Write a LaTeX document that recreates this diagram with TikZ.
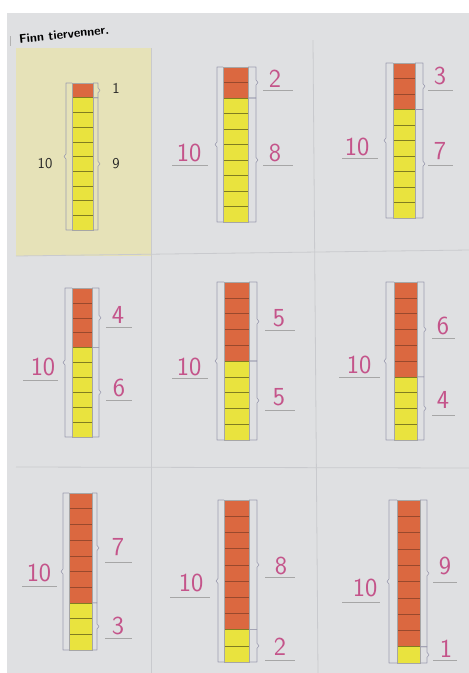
\documentclass[tikz,border=0pt]{standalone}
\usepackage{fontspec}
\definecolor{pagec}{HTML}{DFE0E2}
\definecolor{beige}{HTML}{E6E2B8}
\definecolor{orng}{HTML}{DB6840}
\definecolor{ylw}{HTML}{E9E33E}
\definecolor{pinkn}{HTML}{C4548A}
\definecolor{brk}{HTML}{9C9CB0}
\definecolor{divc}{HTML}{C9CACE}
\newcommand{\tenbar}[7]{%
  \pgfmathsetmacro{\hh}{(#4-#3)/10}%
  \pgfmathsetmacro{\ys}{#3+#5*\hh}%
  \pgfmathsetmacro{\ym}{(#3+#4)/2}%
  \pgfmathsetmacro{\ya}{(#3+\ys)/2}%
  \pgfmathsetmacro{\yb}{(\ys+#4)/2}%
  \fill[orng] (#1,#3) rectangle (#2,\ys);
  \fill[ylw] (#1,\ys) rectangle (#2,#4);
  \foreach \i in {1,...,9}{%
    \pgfmathsetmacro{\yy}{#3+\i*\hh}%
    \ifnum\i<#5\relax
      \draw[orng!70!black,line width=0.5pt] (#1,\yy) -- (#2,\yy);
    \else
      \draw[ylw!55!black,line width=0.5pt] (#1,\yy) -- (#2,\yy);
    \fi
  }
  \draw[black!35,line width=0.3pt] (#1,#3) rectangle (#2,#4);
  \draw[bracket] (#1,#3) -- (#6,#3) -- (#6,\ym-2.5) -- (#6-2,\ym) -- (#6,\ym+2.5) -- (#6,#4) -- (#1,#4);
  \draw[bracket] (#2,#3) -- (#7,#3) -- (#7,\ya-2.5) -- (#7+2,\ya) -- (#7,\ya+2.5) -- (#7,\ys) -- (#2,\ys);
  \draw[bracket] (#2,\ys) -- (#7,\ys) -- (#7,\yb-2.5) -- (#7+2,\yb) -- (#7,\yb+2.5) -- (#7,#4) -- (#2,#4);
}
\tikzset{
  bracket/.style={draw=brk,line width=0.6pt,line join=round},
  num/.style={text=pinkn,font=\sffamily\fontsize{26}{26}\selectfont,inner sep=0pt},
  prnum/.style={text=black!85,font=\sffamily\fontsize{15}{15}\selectfont,inner sep=0pt},
  uline/.style={draw=gray!70,line width=0.6pt},
  divider/.style={draw=divc,line width=0.8pt}
}
\begin{document}
\begin{tikzpicture}[x=1pt,y=-1pt]
\useasboundingbox (0,0) rectangle (469,673);
\fill[white] (0,0) rectangle (469,673);
\fill[pagec] (7,13) rectangle (469,673);
% highlighted example cell
\fill[beige] (16,48) rectangle (151,256);
% dividers
\draw[divider] (151,48) -- (151,673);
\draw[divider] (313,40) -- (318,673);
\draw[divider] (16,256) -- (469,250);
\draw[divider] (16,467) -- (469,468);
% title
\draw[gray!60,line width=0.8pt] (10,36) -- (10,46);
\node[anchor=west,font=\sffamily\bfseries\fontsize{12.5}{12.5}\selectfont,rotate=6,inner sep=0pt] (title) at (19,39) {Finn tiervenner.};
% bars: xl, xr, top, bottom, orange count, left bracket x, right bracket x
\tenbar{72}{93}{83}{230}{1}{66}{98}
\tenbar{223}{248}{67}{222}{2}{217}{256}
\tenbar{393}{415}{63}{218}{3}{386}{423}
\tenbar{72}{92}{288}{437}{4}{65}{99}
\tenbar{224}{249}{282}{440}{5}{217}{257}
\tenbar{394}{417}{282}{440}{6}{386}{424}
\tenbar{69}{92}{493}{650}{7}{63}{97}
\tenbar{224}{249}{500}{662}{8}{218}{257}
\tenbar{397}{420}{500}{663}{9}{389}{427}
% row 1, column 1 (printed)
\node[prnum] (a1) at (116,88) {1};
\node[prnum] (a2) at (116,164) {9};
\node[prnum] (a3) at (45,164) {10};
% row 1, column 2
\node[num] (b1) at (275,79) {2};
\node[num] (b2) at (275,153) {8};
\node[num] (b3) at (189,153) {10};
\draw[uline] (263,90) -- (293,90);
\draw[uline] (263,165) -- (293,165);
\draw[uline] (172,165) -- (208,165);
% row 1, column 3
\node[num] (c1) at (440,76) {3};
\node[num] (c2) at (440,151) {7};
\node[num] (c3) at (357,147) {10};
\draw[uline] (428,90) -- (453,90);
\draw[uline] (428,165) -- (453,165);
\draw[uline] (342,158) -- (378,158);
% row 2, column 1
\node[num] (d1) at (118,315) {4};
\node[num] (d2) at (119,388) {6};
\node[num] (d3) at (43,367) {10};
\draw[uline] (106,327) -- (132,327);
\draw[uline] (106,400) -- (132,400);
\draw[uline] (23,380) -- (58,380);
% row 2, column 2
\node[num] (e1) at (279,318) {5};
\node[num] (e2) at (279,397) {5};
\node[num] (e3) at (189,367) {10};
\draw[uline] (265,330) -- (295,330);
\draw[uline] (265,410) -- (295,410);
\draw[uline] (172,378) -- (208,378);
% row 2, column 3
\node[num] (f1) at (443,326) {6};
\node[num] (f2) at (443,400) {4};
\node[num] (f3) at (359,365) {10};
\draw[uline] (432,338) -- (455,338);
\draw[uline] (432,415) -- (455,415);
\draw[uline] (339,377) -- (380,377);
% row 3, column 1
\node[num] (g1) at (118,547) {7};
\node[num] (g2) at (118,626) {3};
\node[num] (g3) at (39,573) {10};
\draw[uline] (105,562) -- (132,562);
\draw[uline] (105,638) -- (132,638);
\draw[uline] (22,586) -- (57,586);
% row 3, column 2
\node[num] (h1) at (281,566) {8};
\node[num] (h2) at (280,647) {2};
\node[num] (h3) at (191,583) {10};
\draw[uline] (265,577) -- (295,577);
\draw[uline] (265,660) -- (295,660);
\draw[uline] (170,597) -- (210,597);
% row 3, column 3
\node[num] (i1) at (445,566) {9};
\node[num] (i2) at (446,649) {1};
\node[num] (i3) at (365,588) {10};
\draw[uline] (433,582) -- (457,582);
\draw[uline] (433,660) -- (457,660);
\draw[uline] (342,602) -- (380,602);
\end{tikzpicture}
\end{document}
